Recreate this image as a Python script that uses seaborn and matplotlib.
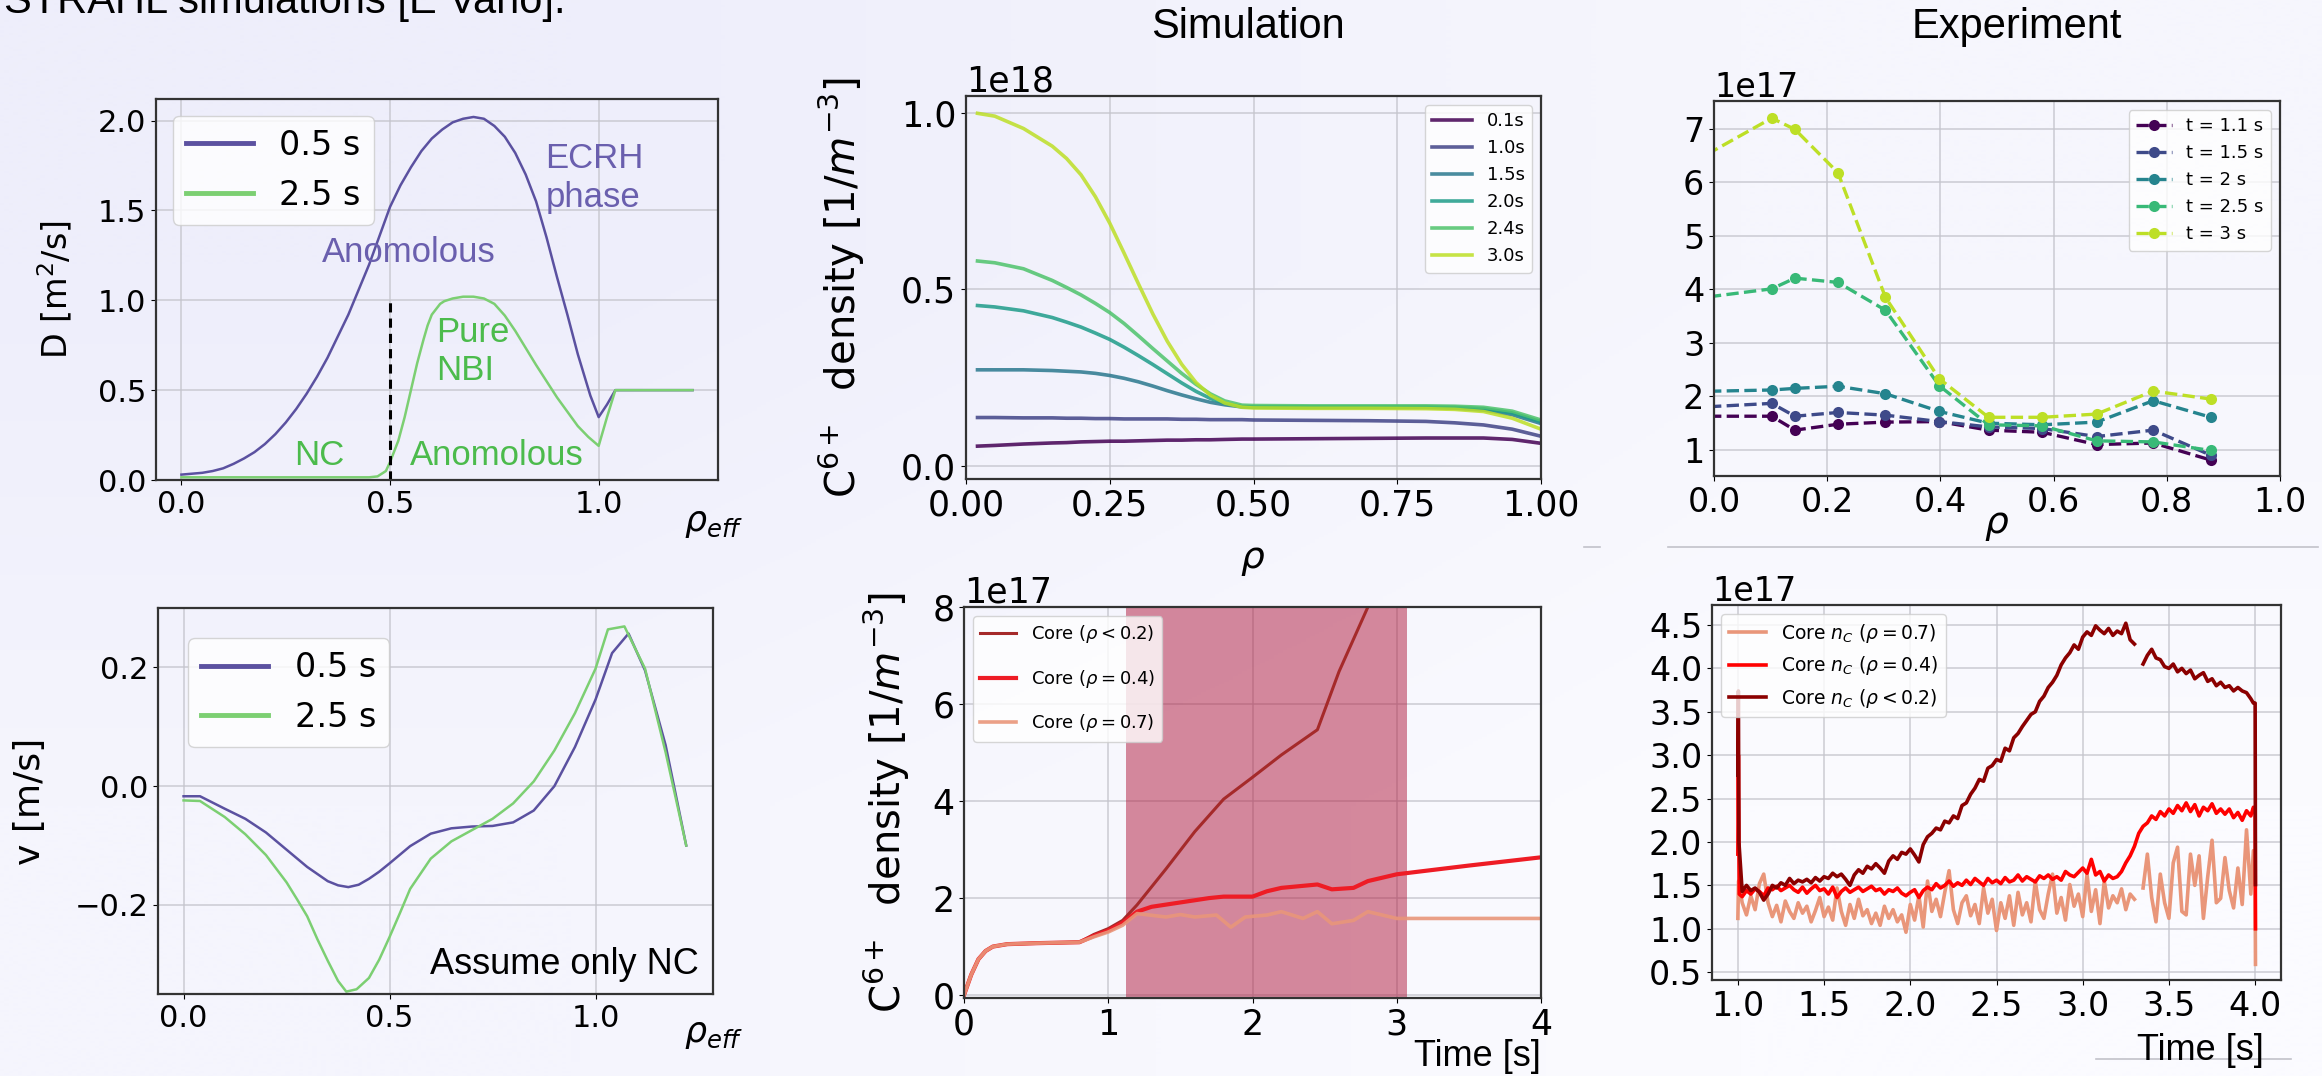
import numpy as np
import matplotlib
matplotlib.use("Agg")
import matplotlib.pyplot as plt
from matplotlib.lines import Line2D
import seaborn as sns

# ---- D profile (top left)
d_x05 = [0, 0.05, 0.075, 0.1, 0.125, 0.15, 0.175, 0.2, 0.225, 0.25, 0.275, 0.3, 0.325, 0.35, 0.375,
         0.4, 0.425, 0.45, 0.475, 0.5, 0.525, 0.55, 0.575, 0.6, 0.625, 0.65, 0.675, 0.7, 0.725,
         0.75, 0.775, 0.8, 0.825, 0.85, 0.875, 0.9, 0.925, 0.95, 0.98, 1.0, 1.02, 1.04, 1.1, 1.225]
d_05 = [0.03, 0.04, 0.05, 0.065, 0.09, 0.12, 0.155, 0.2, 0.255, 0.32, 0.395, 0.48, 0.575, 0.68, 0.8,
        0.92, 1.06, 1.2, 1.36, 1.52, 1.64, 1.74, 1.83, 1.9, 1.95, 1.99, 2.01, 2.02, 2.01,
        1.97, 1.91, 1.82, 1.70, 1.55, 1.35, 1.13, 0.92, 0.7, 0.47, 0.35, 0.42, 0.5, 0.5, 0.5]
d_x25 = [0, 0.2, 0.45, 0.47, 0.49, 0.5, 0.52, 0.535, 0.55, 0.565, 0.58, 0.59, 0.6, 0.62, 0.63, 0.65,
         0.675, 0.7, 0.725, 0.75, 0.775, 0.8, 0.825, 0.85, 0.875, 0.9, 0.925, 0.95, 0.975, 1.0,
         1.02, 1.04, 1.225]
d_25 = [0.015, 0.015, 0.015, 0.02, 0.05, 0.1, 0.22, 0.35, 0.5, 0.65, 0.78, 0.86, 0.92, 0.98, 0.995,
        1.01, 1.02, 1.02, 1.01, 0.98, 0.915, 0.83, 0.735, 0.64, 0.55, 0.46, 0.38, 0.3, 0.24, 0.19,
        0.35, 0.5, 0.5]

# ---- v profile (bottom left)
v_x = [0, 0.04, 0.1, 0.15, 0.2, 0.25, 0.3, 0.35, 0.375, 0.4, 0.425, 0.45, 0.475, 0.5, 0.55, 0.6,
       0.65, 0.7, 0.75, 0.8, 0.85, 0.9, 0.95, 1.0, 1.04, 1.08, 1.12, 1.17, 1.22]
v_05 = [-0.017, -0.017, -0.038, -0.055, -0.078, -0.107, -0.136, -0.16, -0.167, -0.17, -0.166,
        -0.156, -0.144, -0.13, -0.101, -0.08, -0.071, -0.068, -0.067, -0.061, -0.041, 0.0, 0.066,
        0.146, 0.224, 0.257, 0.195, 0.069, -0.1]
v_x25 = [0, 0.04, 0.1, 0.15, 0.2, 0.25, 0.275, 0.3, 0.325, 0.35, 0.375, 0.395, 0.42, 0.45, 0.475,
         0.5, 0.525, 0.55, 0.6, 0.65, 0.7, 0.75, 0.8, 0.85, 0.9, 0.95, 1.0, 1.03, 1.07, 1.12, 1.17,
         1.22]
v_25 = [-0.024, -0.025, -0.052, -0.081, -0.116, -0.162, -0.19, -0.219, -0.258, -0.294, -0.328,
        -0.346, -0.342, -0.323, -0.292, -0.254, -0.214, -0.173, -0.122, -0.093, -0.074, -0.055,
        -0.029, 0.008, 0.06, 0.123, 0.198, 0.264, 0.269, 0.198, 0.057, -0.1]

# ---- simulated C6+ profiles, units of 1e18
sim_rho = [0.02, 0.05, 0.1, 0.15, 0.175, 0.2, 0.225, 0.25, 0.275, 0.3, 0.325, 0.35, 0.375, 0.4,
           0.425, 0.45, 0.48, 0.5, 0.6, 0.7, 0.8, 0.85, 0.9, 0.95, 1.0]
sim_times = ["0.1s", "1.0s", "1.5s", "2.0s", "2.4s", "3.0s"]
sim_01 = [0.056, 0.058, 0.062, 0.065, 0.066, 0.068, 0.069, 0.070, 0.070, 0.071, 0.072, 0.073, 0.073,
          0.074, 0.074, 0.075, 0.076, 0.076, 0.077, 0.078, 0.079, 0.079, 0.079, 0.075, 0.064]
sim_10 = [0.137, 0.137, 0.136, 0.136, 0.135, 0.135, 0.134, 0.134, 0.133, 0.133, 0.133, 0.133, 0.132,
          0.132, 0.131, 0.131, 0.131, 0.130, 0.129, 0.128, 0.126, 0.122, 0.116, 0.104, 0.084]
sim_15 = [0.272, 0.272, 0.272, 0.270, 0.268, 0.266, 0.262, 0.256, 0.248, 0.238, 0.226, 0.213, 0.201,
          0.190, 0.180, 0.173, 0.167, 0.166, 0.165, 0.165, 0.165, 0.163, 0.158, 0.145, 0.120]
sim_20 = [0.454, 0.450, 0.439, 0.420, 0.407, 0.393, 0.376, 0.358, 0.336, 0.312, 0.287, 0.261, 0.235,
          0.211, 0.191, 0.177, 0.168, 0.167, 0.167, 0.167, 0.167, 0.166, 0.162, 0.150, 0.125]
sim_24 = [0.580, 0.575, 0.558, 0.525, 0.505, 0.484, 0.460, 0.434, 0.403, 0.368, 0.332, 0.297, 0.262,
          0.231, 0.204, 0.184, 0.172, 0.171, 0.170, 0.170, 0.170, 0.169, 0.166, 0.155, 0.130]
sim_30 = [0.998, 0.990, 0.955, 0.905, 0.870, 0.824, 0.762, 0.687, 0.602, 0.515, 0.430, 0.353, 0.288,
          0.236, 0.200, 0.178, 0.166, 0.164, 0.163, 0.163, 0.162, 0.160, 0.154, 0.135, 0.104]

# ---- simulated core density vs time, units of 1e17
sim_t02 = [0, 0.05, 0.1, 0.15, 0.2, 0.3, 0.5, 0.8, 0.9, 1.0, 1.1, 1.2, 1.4, 1.6, 1.8, 2.0, 2.2, 2.45,
           2.6, 2.83]
core_02 = [0, 0.42, 0.74, 0.91, 1.0, 1.05, 1.07, 1.09, 1.25, 1.37, 1.54, 1.86, 2.6, 3.37, 4.04, 4.49,
           4.95, 5.47, 6.67, 8.2]
sim_t04 = [0, 0.05, 0.1, 0.15, 0.2, 0.3, 0.5, 0.8, 0.9, 1.0, 1.1, 1.2, 1.3, 1.5, 1.7, 1.8, 2.0, 2.1,
           2.2, 2.45, 2.55, 2.7, 2.8, 3.0, 3.5, 4.0]
core_04 = [0, 0.42, 0.74, 0.91, 1.0, 1.05, 1.07, 1.09, 1.22, 1.33, 1.49, 1.72, 1.82, 1.91, 2.0, 2.03,
           2.03, 2.14, 2.21, 2.28, 2.18, 2.21, 2.35, 2.49, 2.67, 2.84]
sim_t07 = [0, 0.05, 0.1, 0.15, 0.2, 0.3, 0.5, 0.8, 0.9, 1.0, 1.1, 1.2, 1.4, 1.5, 1.6, 1.75, 1.85,
           1.95, 2.1, 2.2, 2.35, 2.45, 2.55, 2.7, 2.8, 3.0, 4.0]
core_07 = [0, 0.42, 0.74, 0.91, 1.0, 1.05, 1.07, 1.09, 1.2, 1.3, 1.44, 1.68, 1.61, 1.66, 1.61, 1.65,
           1.4, 1.61, 1.65, 1.72, 1.58, 1.72, 1.47, 1.54, 1.72, 1.58, 1.58]
nbi_start, nbi_end = 1.12, 3.07

# ---- experimental profiles, units of 1e17
exp_rho = [-0.04, 0.102, 0.143, 0.219, 0.303, 0.398, 0.485, 0.58, 0.676, 0.776, 0.878]
exp_labels = ["t = 1.1 s", "t = 1.5 s", "t = 2 s", "t = 2.5 s", "t = 3 s"]
exp_11 = [1.63, 1.63, 1.37, 1.48, 1.52, 1.53, 1.37, 1.33, 1.10, 1.13, 0.81]
exp_15 = [1.79, 1.87, 1.63, 1.70, 1.65, 1.53, 1.43, 1.40, 1.25, 1.37, 0.90]
exp_20 = [2.09, 2.12, 2.15, 2.19, 2.05, 1.72, 1.50, 1.47, 1.52, 1.92, 1.61]
exp_25 = [3.82, 4.01, 4.21, 4.13, 3.61, 2.20, 1.47, 1.45, 1.17, 1.15, 0.99]
exp_30 = [6.36, 7.20, 6.99, 6.18, 3.85, 2.33, 1.61, 1.61, 1.67, 2.10, 1.95]

# ---- experimental core density vs time, units of 1e17 (sampled every 25 ms from 1.025 s)
exp_t0, exp_dt = 1.025, 0.025
exp_02 = [1.43, 1.50, 1.44, 1.47, 1.42, 1.33, 1.40, 1.50, 1.47, 1.53, 1.50, 1.58,
          1.52, 1.56, 1.54, 1.57, 1.53, 1.59, 1.55, 1.60, 1.58, 1.64, 1.60, 1.63,
          1.57, 1.50, 1.62, 1.68, 1.64, 1.72, 1.69, 1.75, 1.70, 1.64, 1.78, 1.84,
          1.80, 1.88, 1.86, 1.92, 1.85, 1.77, 1.97, 2.06, 2.10, 2.16, 2.14, 2.24,
          2.22, 2.30, 2.27, 2.42, 2.45, 2.55, 2.62, 2.72, 2.70, 2.85, 2.88, 2.95,
          2.93, 3.08, 3.05, 3.20, 3.25, 3.33, 3.40, 3.47, 3.50, 3.62, 3.68, 3.78,
          3.84, 3.92, 4.04, 4.12, 4.18, 4.27, 4.22, 4.36, 4.42, 4.38, 4.49, 4.44,
          4.40, 4.46, 4.38, 4.43, 4.40, 4.52, 4.33, 4.28, np.nan, 4.05, 4.15, 4.22,
          4.12, 4.10, 4.02, 4.00, 4.05, 3.96, 4.00, 3.94, 3.98, 3.88, 3.92, 3.95,
          3.85, 3.88, 3.80, 3.84, 3.78, 3.80, 3.74, 3.78, 3.74, 3.72, 3.65]
exp_04 = [1.37, 1.44, 1.40, 1.46, 1.43, 1.38, 1.47, 1.45, 1.49, 1.44, 1.47, 1.50,
          1.45, 1.42, 1.48, 1.41, 1.46, 1.50, 1.44, 1.46, 1.40, 1.48, 1.36, 1.43,
          1.47, 1.42, 1.45, 1.48, 1.43, 1.46, 1.49, 1.44, 1.46, 1.40, 1.45, 1.43,
          1.47, 1.41, 1.38, 1.42, 1.45, 1.36, 1.44, 1.48, 1.45, 1.52, 1.47, 1.50,
          1.55, 1.49, 1.53, 1.50, 1.56, 1.51, 1.58, 1.54, 1.50, 1.58, 1.53, 1.56,
          1.52, 1.59, 1.54, 1.56, 1.62, 1.55, 1.60, 1.57, 1.54, 1.61, 1.58, 1.62,
          1.57, 1.60, 1.56, 1.66, 1.62, 1.60, 1.65, 1.70, 1.64, 1.80, 1.62, 1.66,
          1.55, 1.62, 1.58, 1.60, 1.66, 1.76, 1.84, 1.95, 2.10, 2.18, 2.22, 2.30,
          2.26, 2.35, 2.30, 2.38, 2.33, 2.42, 2.36, 2.45, 2.35, 2.43, 2.30, 2.40,
          2.36, 2.44, 2.33, 2.38, 2.32, 2.38, 2.28, 2.34, 2.25, 2.36, 2.30]
exp_07 = [1.30, 1.16, 1.38, 1.22, 1.52, 1.63, 1.30, 1.14, 1.27, 1.08, 1.32, 1.20,
          1.12, 1.30, 1.18, 1.26, 1.08, 1.21, 1.36, 1.14, 1.25, 1.10, 1.47, 1.20,
          1.04, 1.28, 1.12, 1.34, 1.15, 1.22, 1.06, 1.18, 1.04, 1.26, 1.12, 1.22,
          1.08, 1.16, 0.96, 1.28, 1.10, 1.38, 1.02, 1.55, 1.20, 1.34, 1.14, 1.42,
          1.67, 1.22, 1.06, 1.30, 1.38, 1.15, 1.28, 1.06, 1.47, 1.18, 1.34, 0.98,
          1.30, 1.12, 1.38, 1.04, 1.42, 1.16, 1.30, 1.08, 1.55, 1.22, 1.12, 1.40,
          1.63, 1.18, 1.36, 1.10, 1.51, 1.26, 1.40, 1.14, 1.63, 1.20, 1.45, 1.06,
          1.55, 1.24, 1.38, 1.30, 1.46, 1.22, 1.40, 1.34, np.nan, 1.47, 1.86, 1.36,
          1.08, 1.63, 1.30, 1.12, 1.76, 1.94, 1.20, 1.16, 1.86, 1.50, 1.84, 1.12,
          1.60, 2.02, 1.30, 1.35, 1.82, 1.44, 1.24, 1.70, 1.28, 2.14, 1.40]
# start spike and end drop of the discharge
head_t02, head_02 = [1.0, 1.003, 1.006], [2.77, 3.74, 2.0]
head_t04, head_04 = [1.0, 1.003, 1.008], [1.86, 3.0, 1.40]
head_t07, head_07 = [1.0, 1.004], [1.12, 1.55]
tail_t = [3.99, 4.0, 4.002]
tail_02, tail_04, tail_07 = [3.60, 3.60, 1.51], [2.40, 2.35, 1.0], [1.90, 1.50, 0.59]

W, H = 2322, 1076
fig = plt.figure(figsize=(W / 100, H / 100), dpi=100)
fig.patch.set_facecolor("#f4f4fc")

# soft slide background
bg = fig.add_axes([0, 0, 1, 1], zorder=-10)
grad = np.array([[[238, 238, 251], [246, 246, 253]], [[245, 245, 253], [251, 251, 255]]]) / 255
bg.imshow(grad, aspect="auto", interpolation="bilinear", extent=[0, 1, 0, 1])
bg.axis("off")

plt.rcParams["axes.edgecolor"] = "#333333"
SANS = "Liberation Sans"


def px_axes(x0, y0, x1, y1):
    ax = fig.add_axes([x0 / W, 1 - y1 / H, (x1 - x0) / W, (y1 - y0) / H])
    ax.set_facecolor("none")
    ax.grid(True, color="#c4c4cc", lw=1.2, alpha=0.8)
    ax.set_axisbelow(True)
    for s in ax.spines.values():
        s.set_linewidth(1.6)
    return ax


def line(ax, x, y, **kw):
    sns.lineplot(x=np.asarray(x, float), y=np.asarray(y, float), ax=ax, sort=False,
                 estimator=None, **kw)


purple, green = "#5b51a0", "#7ccf72"

# ================= D =================
ax1 = px_axes(156, 99, 718, 480)
line(ax1, d_x05, d_05, color=purple, lw=1.8, label="0.5 s")
line(ax1, d_x25, d_25, color=green, lw=1.8, label="2.5 s")
ax1.vlines(0.5, 0, 1.02, colors="k", linestyles=(0, (3, 2)), lw=2.2)
ax1.set_xlim(-0.061, 1.286)
ax1.set_ylim(0, 2.12)
ax1.set_xticks([0, 0.5, 1.0])
ax1.set_yticks([0, 0.5, 1.0, 1.5, 2.0])
ax1.tick_params(labelsize=22)
ax1.set_ylabel("D [m$^2$/s]", fontsize=24)
ax1.yaxis.set_label_coords(-0.145, 0.5)
leg = ax1.legend(loc="upper left", fontsize=24, handlelength=2.0)
for h in leg.get_lines():
    h.set_linewidth(3.5)
ax1.text(0.872, 1.68, "ECRH\nphase", color="#6a5fae", fontsize=25, family=SANS, va="center")
ax1.text(0.336, 1.267, "Anomolous", color="#6a5fae", fontsize=25, family=SANS, va="center")
ax1.text(0.61, 0.716, "Pure\nNBI", color="#4cbb4c", fontsize=25, family=SANS, va="center")
ax1.text(0.271, 0.136, "NC", color="#4cbb4c", fontsize=25, family=SANS, va="center")
ax1.text(0.547, 0.136, "Anomolous", color="#4cbb4c", fontsize=25, family=SANS, va="center")
fig.text(714 / W, 1 - 523 / H, r"$\rho_{eff}$", fontsize=25, ha="center", va="center")

# ================= v =================
ax2 = px_axes(158, 608, 713, 994)
line(ax2, v_x, v_05, color=purple, lw=1.8, label="0.5 s")
line(ax2, v_x25, v_25, color=green, lw=1.8, label="2.5 s")
ax2.set_xlim(-0.062, 1.285)
ax2.set_ylim(-0.35, 0.30)
ax2.set_xticks([0, 0.5, 1.0])
ax2.set_yticks([-0.2, 0.0, 0.2])
ax2.tick_params(labelsize=22)
ax2.set_ylabel("v [m/s]", fontsize=26)
ax2.yaxis.set_label_coords(-0.2, 0.5)
leg = ax2.legend(loc="upper left", fontsize=24, handlelength=2.0, borderaxespad=0.9)
for h in leg.get_lines():
    h.set_linewidth(3.5)
ax2.text(1.251, -0.300, "Assume only NC", fontsize=26, family=SANS, ha="right", va="center")
fig.text(714 / W, 1 - 1034 / H, r"$\rho_{eff}$", fontsize=25, ha="center", va="center")

# ================= simulated profiles =================
ax3 = px_axes(966, 96, 1541, 479)
sim_cols = plt.cm.viridis([0.0, 0.2, 0.4, 0.55, 0.72, 0.9])
for lab, ys, c in zip(sim_times, [sim_01, sim_10, sim_15, sim_20, sim_24, sim_30], sim_cols):
    line(ax3, sim_rho, np.array(ys) * 1e18, color=c, lw=2.6, alpha=0.85, label=lab)
ax3.set_xlim(0, 1)
ax3.set_ylim(-0.037e18, 1.047e18)
ax3.set_xticks([0, 0.25, 0.5, 0.75, 1.0])
ax3.set_yticks([0, 0.5e18, 1.0e18])
ax3.tick_params(labelsize=25)
ax3.yaxis.get_offset_text().set_fontsize(25)
ax3.set_ylabel(r"C$^{6+}$  density [1/$m^{-3}$]", fontsize=29)
ax3.yaxis.set_label_coords(-0.172, 0.5)
ax3.legend(loc="upper right", fontsize=13, handlelength=2.2)
fig.text(1253 / W, 1 - 560 / H, r"$\rho$", fontsize=27, ha="center", va="center")

# ================= simulated core vs time =================
ax4 = px_axes(964, 607, 1541, 998)
ax4.axvspan(nbi_start, nbi_end, color="#b0183c", alpha=0.5, lw=0)
line(ax4, sim_t02, np.array(core_02) * 1e17, color="#a52a2a", lw=2.2, label=r"Core ($\rho<0.2$)")
line(ax4, sim_t04, np.array(core_04) * 1e17, color="#ee1c25", lw=3.0, label=r"Core ($\rho=0.4$)")
line(ax4, sim_t07, np.array(core_07) * 1e17, color="#e9967a", lw=2.6, alpha=0.9,
     label=r"Core ($\rho=0.7$)")
ax4.set_xlim(0, 4)
ax4.set_ylim(-0.06e17, 8e17)
ax4.set_xticks([0, 1, 2, 3, 4])
ax4.set_yticks([0, 2e17, 4e17, 6e17, 8e17])
ax4.tick_params(labelsize=25)
ax4.yaxis.get_offset_text().set_fontsize(25)
ax4.set_ylabel(r"C$^{6+}$  density [1/$m^{-3}$]", fontsize=29)
ax4.yaxis.set_label_coords(-0.09, 0.5)
ax4.legend(loc="upper left", fontsize=13, labelspacing=1.25, handlelength=2.0)
fig.text(1477 / W, 1 - 1056 / H, "Time [s]", fontsize=26, family=SANS, ha="center", va="center")

# ================= experimental profiles =================
ax5 = px_axes(1714, 101, 2280, 476)
exp_cols = plt.cm.viridis(np.linspace(0, 0.9, 5))
for lab, ys, c in zip(exp_labels, [exp_11, exp_15, exp_20, exp_25, exp_30], exp_cols):
    line(ax5, exp_rho, np.array(ys) * 1e17, color=c, lw=2.4, linestyle="--", marker="o",
         markersize=8, markeredgewidth=0, label=lab)
ax5.set_xlim(0, 1)
ax5.set_ylim(0.513e17, 7.52e17)
ax5.set_xticks([0, 0.2, 0.4, 0.6, 0.8, 1.0])
ax5.set_yticks([1e17, 2e17, 3e17, 4e17, 5e17, 6e17, 7e17])
ax5.tick_params(labelsize=24)
ax5.yaxis.get_offset_text().set_fontsize(24)
ax5.legend(loc="upper right", fontsize=13, handlelength=2.0)
fig.text(1997 / W, 1 - 525 / H, r"$\rho$", fontsize=27, ha="center", va="center")

# ================= experimental core vs time =================
ax6 = px_axes(1712, 605, 2281, 980)
exp_t = exp_t0 + exp_dt * np.arange(len(exp_02))
for lab, head_t, head, body, tail, c in [
        (r"Core $n_C$ ($\rho=0.7$)", head_t07, head_07, exp_07, tail_07, "#e9967a"),
        (r"Core $n_C$ ($\rho=0.4$)", head_t04, head_04, exp_04, tail_04, "#ff0000"),
        (r"Core $n_C$ ($\rho<0.2$)", head_t02, head_02, exp_02, tail_02, "#8b0000")]:
    tt = np.concatenate([head_t, exp_t, tail_t])
    vv = np.concatenate([head, body, tail]) * 1e17
    gap = np.where(np.isnan(vv))[0]
    if len(gap):
        g = gap[0]
        line(ax6, tt[:g], vv[:g], color=c, lw=2.6, label=lab)
        line(ax6, tt[g + 1:], vv[g + 1:], color=c, lw=2.6)
    else:
        line(ax6, tt, vv, color=c, lw=2.6, label=lab)
ax6.set_xlim(0.85, 4.15)
ax6.set_ylim(0.41e17, 4.73e17)
ax6.set_xticks([1.0, 1.5, 2.0, 2.5, 3.0, 3.5, 4.0])
ax6.set_yticks(np.array([0.5, 1.0, 1.5, 2.0, 2.5, 3.0, 3.5, 4.0, 4.5]) * 1e17)
ax6.tick_params(labelsize=24)
ax6.yaxis.get_offset_text().set_fontsize(24)
ax6.legend(loc="upper left", fontsize=13.5, handlelength=2.0)
fig.text(2200 / W, 1 - 1050 / H, "Time [s]", fontsize=26, family=SANS, ha="center", va="center")

for a in (ax1, ax2, ax3, ax4, ax5, ax6):
    a.set_xlabel("")

# ---- slide texts and rules
fig.text(4 / W, 1 - 13 / H, "STRAHL simulations [E Vano].", fontsize=30, family=SANS,
         va="baseline", ha="left")
fig.text(1248 / W, 1 - 27 / H, "Simulation", fontsize=30, family=SANS, ha="center", va="center")
fig.text(2017 / W, 1 - 27 / H, "Experiment", fontsize=30, family=SANS, ha="center", va="center")
for x0, x1, y in [(1668, 2318, 547), (1584, 1600, 547), (2096, 2291, 1059)]:
    fig.add_artist(Line2D([x0 / W, x1 / W], [1 - y / H, 1 - y / H], color="#c2c2ca", lw=1.2))

fig.savefig("out.png", dpi=100, facecolor=fig.get_facecolor())
